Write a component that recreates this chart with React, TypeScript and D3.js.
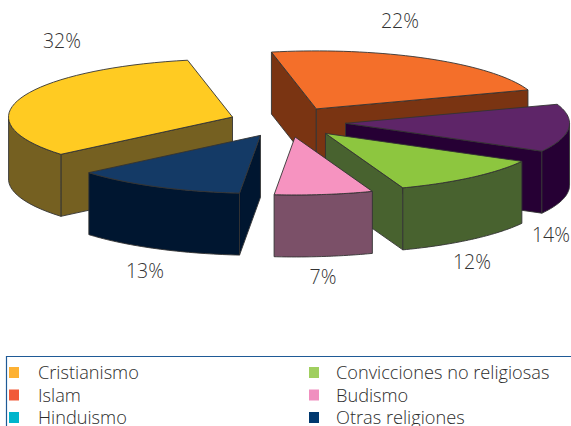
import React from "react";
import * as d3 from "d3";

const sliceNames = ["Cristianismo", "Islam", "Hinduismo", "Convicciones no religiosas", "Budismo", "Otras religiones"];
const sliceLabels = [32, 22, 14, 12, 7, 13];
// shares as actually drawn in the picture
const sliceShares = [32.9, 22.9, 13.3, 11.4, 7.1, 12.4];
const topColors = ["#FFCB22", "#F46F2A", "#5E2568", "#8DC63F", "#F693C0", "#143A66"];
const wallColors = ["#756021", "#7A3412", "#260034", "#48622F", "#7B5068", "#001630"];
const paintOrder = [1, 0, 2, 3, 5, 4];
const labelPositions = [[62, 42], [400, 22], [551, 236], [472, 263], [323, 278], [145, 272]];
const legendColors = ["#FDB133", "#F15A38", "#00B5CC", "#A0CF5F", "#F08FBF", "#00386E"];
const legendRows = [379, 401.5, 424];

const CX = 287.5, CY = 122, RX = 224, RY = 58, DEPTH = 62, EXPLODE = 0.26;
const START = (230 * Math.PI) / 180;

export default function App() {
  const arcs = d3.pie<number>().sort(null).startAngle(START).endAngle(START + 2 * Math.PI)(sliceShares);
  const line = d3.line<[number, number]>();

  const slices = arcs.map((a, i) => {
    const mid = (a.startAngle + a.endAngle) / 2;
    const ax = CX + EXPLODE * RX * Math.sin(mid);
    const ay = CY - EXPLODE * RY * Math.cos(mid);
    const pt = (t: number, dz = 0): [number, number] => [ax + RX * Math.sin(t), ay - RY * Math.cos(t) + dz];
    const samples = d3.range(0, 41).map((k) => a.startAngle + ((a.endAngle - a.startAngle) * k) / 40);
    const top = line([[ax, ay], ...samples.map((t) => pt(t))]) + "Z";
    const walls: string[] = [];
    if (Math.sin(a.startAngle) < 0) {
      const p = pt(a.startAngle);
      walls.push(line([[ax, ay], p, [p[0], p[1] + DEPTH], [ax, ay + DEPTH]]) + "Z");
    }
    if (Math.sin(a.endAngle) > 0) {
      const p = pt(a.endAngle);
      walls.push(line([[ax, ay], p, [p[0], p[1] + DEPTH], [ax, ay + DEPTH]]) + "Z");
    }
    const front = samples.filter((t) => Math.cos(t) < 0);
    const rim = front.length > 1
      ? line([...front.map((t) => pt(t)), ...[...front].reverse().map((t) => pt(t, DEPTH))]) + "Z"
      : null;
    return { i, top, walls, rim };
  });

  return (
    <svg width={571} height={426} style={{ position: "absolute", left: 0, top: 0, fontFamily: "'Open Sans', sans-serif", fontWeight: 300 }}>
      <rect width={571} height={426} fill="#fff" />
      {paintOrder.map((i) => {
        const s = slices[i];
        return (
          <g key={i} stroke="#333" strokeWidth={0.9} strokeLinejoin="round">
            {s.walls.map((d, k) => <path key={k} d={d} fill={wallColors[i]} />)}
            {s.rim && <path d={s.rim} fill={wallColors[i]} />}
            <path d={s.top} fill={topColors[i]} />
          </g>
        );
      })}
      {sliceLabels.map((v, i) => (
        <text key={i} x={labelPositions[i][0]} y={labelPositions[i][1] + 6} textAnchor="middle" fontSize={19.5} fill="#333">{v}%</text>
      ))}
      <path d="M571,356.5H6.5V426" fill="none" stroke="#1F5A96" strokeWidth={1.2} />
      {sliceNames.map((n, i) => {
        const col = i < 3 ? 0 : 1;
        const y = legendRows[i % 3];
        return (
          <g key={n}>
            <rect x={col ? 309 : 9} y={y - 12} width={10} height={11} fill={legendColors[i]} />
            <text x={col ? 336 : 38} y={y} fontSize={18.2} fill="#2c2c2c">{n}</text>
          </g>
        );
      })}
    </svg>
  );
}
